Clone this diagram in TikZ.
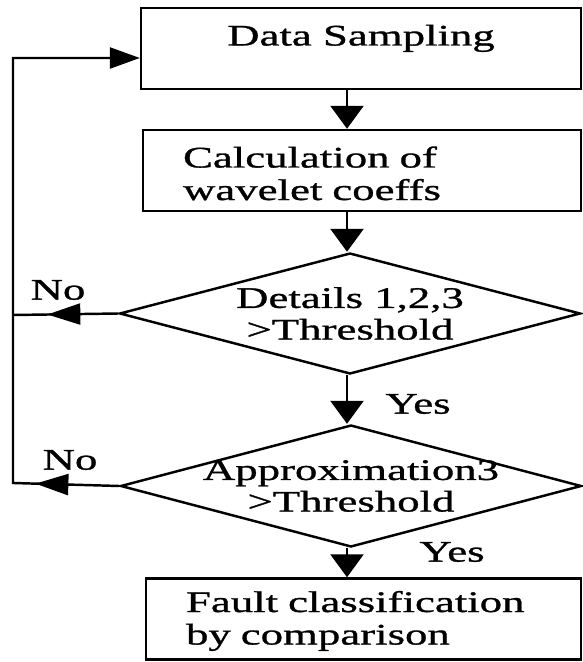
\documentclass[tikz,border=0pt]{standalone}
\usepackage{fontspec}
\setmainfont{Liberation Serif}[FakeStretch=1.5,FakeBold=1]
\usetikzlibrary{shapes.geometric,arrows.meta,decorations.markings}

\begin{document}
\begin{tikzpicture}[x=0.02cm,y=-0.02cm,line width=1.4pt,
    font=\fontsize{17}{18.5}\selectfont,
    box/.style={draw,rectangle,inner sep=0pt,minimum height=1.62cm},
    stepbox/.style={box,align=left,inner xsep=0.8cm,text height=0.42cm},
    test/.style={draw,diamond,inner sep=0pt,minimum width=9.22cm},
    ttext/.style={align=center,font=\fontsize{17}{18}\selectfont},
    flow/.style={-{Triangle[length=0.46cm,width=0.66cm]}},
    noarrow/.style={decoration={markings,mark=at position #1 with {\arrow{Triangle[length=0.66cm,width=0.42cm]}}},postaction={decorate}}]
                \useasboundingbox (0,0) rectangle (582,662);
                % boxes and tests
                \node[box,minimum width=8.8cm,text height=0.4cm,text depth=0.52cm] (samp) at (361,48.5){Data Sampling};
                \node[stepbox,minimum width=8.76cm,text width=7.16cm,text depth=0.54cm] (coef) at (362,170.5){Calculation of\\wavelet coeffs};
                \node[test,minimum height=2.42cm] (det) at (350,313.5){};
                \node[ttext] (dett) at (det.center){Details 1,2,3\\>Threshold};
                \node[test,minimum height=2.44cm] (app) at (351,486){};
                \node[ttext] (appt) at (app.center){Approximation3\\>Threshold};
                \node[stepbox,minimum width=8.7cm,text width=7.1cm,text depth=0.7cm] (fault) at (363.5,619){Fault classification\\by comparison};
                % loop corners
                \coordinate (c1) at (13,315);
                \coordinate (c2) at (13,483);
                \coordinate (c0) at (13,58);
                % main line
                \draw[flow] (samp.south -| 347,0) -- (coef.north -| 347,0);
                \draw[flow] (coef.south -| 347,0) -- (det.north -| 347,0);
                \draw[flow] (det.south -| 347,0) -- (app.north -| 347,0);
                \draw[flow] (app.south -| 347,0) -- (fault.north -| 347,0);
                % back to sampling
                \draw[noarrow=1.42cm] (det.west) -- (c1);
                \draw[noarrow=1.68cm,-{Triangle[length=0.6cm,width=0.42cm]}] (app.west) -- (c2) -- (c0) -- (samp.west |- c0);
                \node (no1) at (58,290){No};
                \node (no2) at (70,460){No};
                \node (yes1) at (418,404){Yes};
                \node (yes2) at (452,552){Yes};
\end{tikzpicture}
\end{document}
